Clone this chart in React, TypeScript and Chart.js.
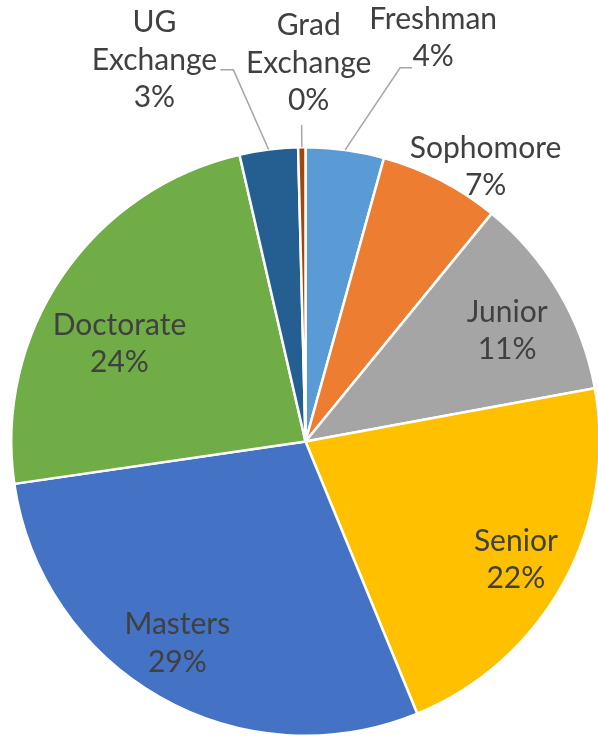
import React, { useEffect, useRef } from 'react';
import { Chart, PieController, ArcElement } from 'chart.js';

Chart.register(PieController, ArcElement);

const categories = ['Freshman', 'Sophomore', 'Junior', 'Senior', 'Masters', 'Doctorate', 'UG Exchange', 'Grad Exchange'];
const values = [4.3, 6.6, 11.2, 21.7, 28.9, 23.7, 3.2, 0.4];
const labelLines = [['Freshman'], ['Sophomore'], ['Junior'], ['Senior'], ['Masters'], ['Doctorate'], ['UG', 'Exchange'], ['Grad', 'Exchange']];
const colors = ['#5B9BD5', '#ED7D31', '#A5A5A5', '#FFC000', '#4472C4', '#70AD47', '#255E91', '#9E480E'];

// label placement: radius factor (of outer radius) and angle nudge (deg) from slice mid-angle
const labelRadius = [1.439, 1.116, 0.782, 0.82, 0.813, 0.714, 1.395, 1.286];
const labelNudge = [9.8, 5.9, 1.8, 0.7, 2.7, -6.7, -14.4, 1.2];
// leader lines: attach points relative to label centre (null = none)
const leaders: (number[][] | null)[] = [
  [[-33, 30], [-21, 30]],
  null,
  null,
  null,
  null,
  null,
  [[79, 10], [66, 10]],
  [[-7, 62]],
];

const FONT = 'Lato';
const FONT_SIZE = 30;
const LINE_H = 37.5;

const labelPlugin = {
  id: 'pieLabels',
  afterDatasetsDraw(chart: any) {
    const ctx = chart.ctx as CanvasRenderingContext2D;
    const meta = chart.getDatasetMeta(0);
    const total = values.reduce((a, b) => a + b, 0);
    ctx.save();
    meta.data.forEach((arc: any, i: number) => {
      const { x, y, startAngle, endAngle, outerRadius } = arc.getProps(['x', 'y', 'startAngle', 'endAngle', 'outerRadius'], true);
      const mid = (startAngle + endAngle) / 2;
      const a = mid + (labelNudge[i] * Math.PI) / 180;
      const cx = x + Math.cos(a) * outerRadius * labelRadius[i];
      const cy = y + Math.sin(a) * outerRadius * labelRadius[i];
      const lines = [...labelLines[i], Math.round((values[i] / total) * 100) + '%'];
      const ld = leaders[i];
      if (ld) {
        ctx.beginPath();
        ctx.strokeStyle = '#A6A6A6';
        ctx.lineWidth = 1.5;
        ctx.moveTo(x + Math.cos(mid) * outerRadius, y + Math.sin(mid) * outerRadius);
        ld.forEach((p) => ctx.lineTo(cx + p[0], cy + p[1]));
        ctx.stroke();
      }
      ctx.fillStyle = '#404040';
      ctx.font = `${FONT_SIZE}px ${FONT}`;
      ctx.textAlign = 'center';
      ctx.textBaseline = 'middle';
      lines.forEach((t, k) => {
        ctx.fillText(t, cx, cy + (k - (lines.length - 1) / 2) * LINE_H);
      });
    });
    ctx.restore();
  },
};

export default function App() {
  const ref = useRef<HTMLCanvasElement | null>(null);
  useEffect(() => {
    document.body.style.margin = '0';
    const chart = new Chart(ref.current as HTMLCanvasElement, {
      type: 'pie',
      data: {
        labels: categories,
        datasets: [
          {
            data: values,
            backgroundColor: colors,
            borderColor: '#FFFFFF',
            borderWidth: 2.5,
          },
        ],
      },
      options: {
        responsive: false,
        animation: false,
        events: [],
        layout: { padding: { left: 10, top: 146, right: 19, bottom: 1 } },
        plugins: { legend: { display: false }, tooltip: { enabled: false } },
      },
      plugins: [labelPlugin],
    });
    return () => chart.destroy();
  }, []);
  return (
    <div style={{ position: 'absolute', left: 0, top: 0, width: 598, height: 738, overflow: 'hidden', background: '#fff' }}>
      <canvas ref={ref} width={620} height={738} style={{ display: 'block', width: 620, height: 738 }} />
    </div>
  );
}
